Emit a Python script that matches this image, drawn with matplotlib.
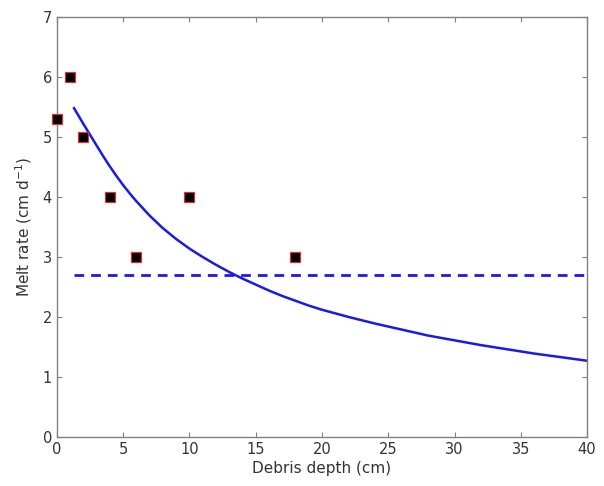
import matplotlib
matplotlib.use("Agg")
import matplotlib.pyplot as plt

# Observed data
obs_depth = [0, 1, 2, 4, 6, 10, 18]
obs_melt = [5.3, 6.0, 5.0, 4.0, 3.0, 4.0, 3.0]

# Fitted curve
fit_depth = [1.3, 1.6, 2, 2.5, 3, 3.5, 4, 4.5, 5, 5.5, 6, 7, 8, 9, 10, 11, 12, 13,
             14, 15, 16, 17, 18, 19, 20, 22, 24, 26, 28, 30, 32, 34, 36, 38, 40]
fit_melt = [5.48, 5.37, 5.22, 5.04, 4.86, 4.68, 4.51, 4.35, 4.20, 4.06, 3.93, 3.69,
            3.48, 3.30, 3.14, 3.00, 2.87, 2.75, 2.64, 2.54, 2.44, 2.35, 2.27, 2.19,
            2.12, 2.00, 1.89, 1.79, 1.69, 1.61, 1.53, 1.46, 1.39, 1.33, 1.27]

# Dashed reference line
ref_depth = [1.3, 40]
ref_melt = [2.7, 2.7]

xticks = [0, 5, 10, 15, 20, 25, 30, 35, 40]
yticks = [0, 1, 2, 3, 4, 5, 6, 7]

fig = plt.figure(figsize=(6.04, 4.86), dpi=100)
ax = fig.add_axes([0.094, 0.101, 0.878, 0.864])

ax.plot(fit_depth, fit_melt, color="#1a1ae6", lw=1.8)
ax.plot(ref_depth, ref_melt, color="#1a1ae6", lw=2.0, ls=(0, (3.5, 2.5)))
ax.plot(obs_depth, obs_melt, ls="none", marker="s", ms=7.5, mfc="black",
        mec="#e03030", mew=0.9, clip_on=False, zorder=5)

ax.set_xlim(0, 40)
ax.set_ylim(0, 7)
ax.set_xticks(xticks)
ax.set_yticks(yticks)
ax.tick_params(direction="in", top=True, right=True, length=3.5, width=0.8,
               colors="#808080", labelcolor="#333333", labelsize=10.5)
for s in ax.spines.values():
    s.set_color("#808080")
    s.set_linewidth(1.0)

ax.set_xlabel("Debris depth (cm)", fontsize=11, color="#333333", labelpad=3)
ax.set_ylabel("Melt rate (cm d$^{-1}$)", fontsize=11, color="#333333", labelpad=6)

fig.savefig("out.png", dpi=100)
